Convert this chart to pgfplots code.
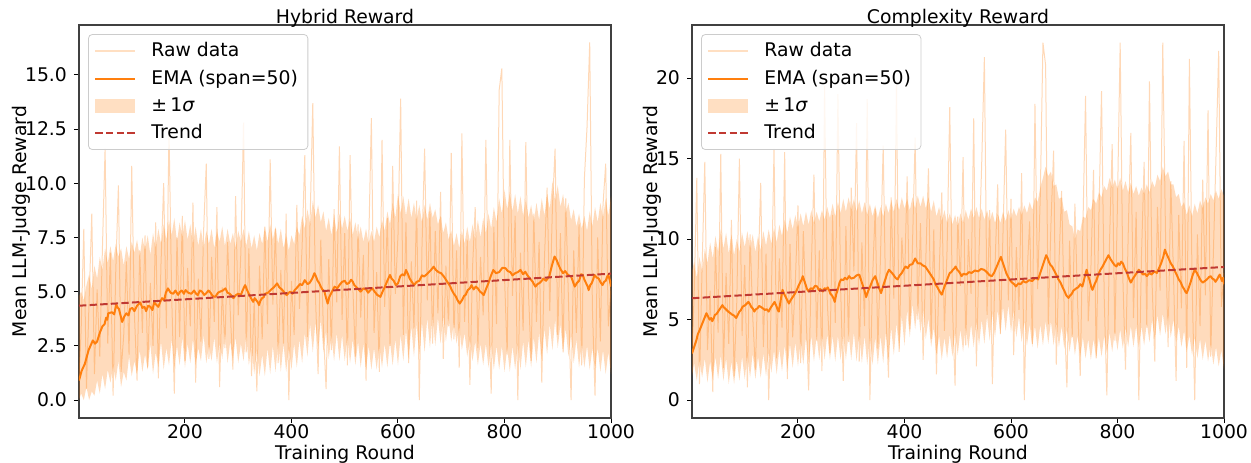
\documentclass[border=0pt]{standalone}
\usepackage{fontspec}
\setmainfont{DejaVu Sans}
\usepackage{pgfplots}
\usepackage{pgfplotstable}
\pgfplotsset{compat=1.18}
\usepgfplotslibrary{fillbetween}

\definecolor{tabor}{RGB}{255,127,14}
\definecolor{trendc}{RGB}{192,57,50}

% Hybrid reward: x, raw value, band low, band high
\pgfplotstableread{
x raw lo hi
1 0.9 0.0 4.8
5 3.2 0.3 5.0
10 7.9 0.0 4.6
15 0.5 0.6 5.3
20 4.6 0.0 5.8
25 8.6 0.4 5.1
30 1.2 0.2 6.2
35 5.1 0.9 5.6
40 2.0 0.3 6.6
45 7.0 1.2 6.0
50 11.6 0.5 7.0
55 2.6 1.4 6.3
60 6.8 0.8 7.1
65 0.2 1.6 6.4
70 5.9 0.9 7.2
75 9.9 1.8 6.6
80 1.3 0.6 7.0
85 3.0 1.3 6.2
90 6.4 0.9 7.1
95 2.1 2.0 6.5
100 10.8 1.1 7.3
105 4.0 1.8 6.8
110 0.9 1.2 7.4
115 6.9 2.3 6.6
120 3.1 1.3 7.5
125 7.6 2.1 6.9
130 1.5 1.4 7.6
135 5.4 2.6 6.7
140 2.5 1.2 7.7
145 8.2 2.2 7.0
150 1.0 1.5 7.9
155 6.3 2.7 7.2
160 10.0 1.4 8.1
165 3.3 2.4 7.4
170 12.5 1.6 8.3
175 4.8 2.8 7.6
180 0.3 1.5 8.4
185 7.5 2.5 7.3
190 2.9 1.6 8.2
195 8.5 2.9 7.5
200 1.8 1.5 8.3
205 6.1 2.6 7.4
210 3.4 1.7 8.1
215 9.1 2.8 7.2
220 0.8 1.6 8.0
225 5.6 2.4 7.1
230 2.7 1.8 7.9
235 7.8 3.0 7.0
240 10.9 1.7 7.8
245 1.9 2.5 7.2
250 6.6 1.8 7.9
255 3.6 2.9 7.0
260 8.9 1.7 7.8
265 0.6 2.6 7.3
270 5.2 1.9 8.0
275 2.4 3.1 7.1
280 7.3 1.7 7.9
285 4.1 2.7 7.2
290 1.4 1.8 7.7
295 9.4 2.9 7.0
300 3.9 1.7 7.8
305 6.8 2.6 7.3
310 12.8 1.8 7.9
315 2.2 3.0 7.1
320 7.0 1.6 7.8
325 1.1 2.5 7.0
330 4.6 1.2 7.6
335 0.4 2.3 6.9
340 6.2 1.1 7.7
345 2.8 2.1 7.2
350 8.0 1.1 8.0
355 3.5 2.4 7.3
360 11.1 1.2 8.1
365 4.4 2.5 7.4
370 7.9 1.3 8.0
375 1.7 2.7 7.2
380 6.0 1.3 7.9
385 2.6 2.6 7.0
390 8.6 1.3 7.6
395 0.0 2.4 6.9
400 5.5 1.4 7.6
405 3.0 2.6 7.2
410 9.0 1.5 8.0
415 4.2 2.8 7.6
420 7.1 1.7 8.5
425 11.3 3.1 7.9
430 2.9 2.0 8.8
435 8.3 3.5 8.1
440 13.7 2.2 9.2
445 4.8 3.6 8.4
450 1.2 2.3 9.0
455 7.4 3.7 8.2
460 3.2 2.2 8.7
465 0.5 3.2 7.8
470 6.5 1.9 8.4
475 2.3 3.0 7.6
480 8.8 1.8 8.5
485 4.5 3.1 7.7
490 11.7 1.8 8.6
495 3.7 3.0 7.9
500 7.7 1.8 8.5
505 1.6 2.9 7.8
510 11.3 1.7 8.4
515 5.3 2.8 7.6
520 2.0 1.6 8.2
525 8.1 2.7 7.4
530 3.8 1.5 8.0
535 6.7 2.6 7.3
540 0.9 1.4 7.9
545 7.2 2.5 7.2
550 13.0 1.4 7.8
555 3.1 2.4 7.3
560 5.9 1.4 8.0
565 1.3 2.5 7.5
570 12.0 1.5 8.3
575 4.3 2.6 7.8
580 8.4 1.5 8.7
585 2.5 2.7 8.1
590 10.8 1.6 9.1
595 4.9 2.8 8.4
600 7.6 1.6 9.5
605 13.9 3.0 8.6
610 3.0 1.8 9.4
615 8.2 3.2 8.5
620 1.7 1.9 9.3
625 6.4 3.4 8.4
630 3.3 2.0 9.1
635 9.2 3.5 8.3
640 0.0 2.1 9.0
645 7.0 3.6 8.2
650 11.6 2.2 9.0
655 4.6 3.8 8.3
660 8.7 2.4 9.1
665 2.6 3.9 8.4
670 7.8 2.5 8.8
675 4.0 3.8 8.1
680 9.6 2.6 8.5
685 1.9 3.9 7.7
690 6.2 2.7 8.2
695 3.4 3.8 7.4
700 11.4 2.7 7.8
705 2.8 3.6 7.1
710 6.9 2.6 7.7
715 1.5 3.4 7.0
720 12.3 2.3 7.8
725 3.6 3.1 7.2
730 7.4 2.0 8.0
735 0.7 2.8 7.3
740 6.1 1.8 8.1
745 8.9 2.7 7.4
750 2.4 1.6 8.3
755 6.6 2.6 7.5
760 3.9 1.6 8.4
765 12.0 2.6 7.7
770 4.4 1.5 8.6
775 0.3 2.6 7.9
780 8.0 1.4 8.9
785 3.5 2.5 8.2
790 14.3 1.4 9.3
795 15.3 2.5 8.6
800 5.7 1.3 9.7
805 2.1 2.4 8.8
810 12.0 1.3 9.6
815 4.8 2.5 8.7
820 8.5 1.4 9.5
825 0.0 2.6 8.6
830 6.8 1.4 9.4
835 3.2 2.7 8.5
840 11.9 1.5 9.3
845 5.0 2.8 8.4
850 1.8 1.5 9.0
855 8.6 2.9 8.2
860 3.6 1.7 9.1
865 7.3 3.1 8.3
870 0.8 1.9 9.3
875 6.5 3.3 8.5
880 9.8 2.1 9.5
885 4.1 3.5 8.8
890 8.9 2.3 10.1
895 11.6 3.7 9.2
900 3.0 2.4 9.9
905 7.7 3.5 8.9
910 2.2 2.2 9.5
915 9.3 3.3 8.6
920 4.7 2.0 9.1
925 0.0 3.0 8.3
930 6.9 1.7 8.8
935 3.1 2.8 8.0
940 8.1 1.5 8.6
945 1.6 2.6 7.9
950 10.2 1.5 8.5
955 12.6 2.5 7.8
960 16.5 1.4 8.7
965 4.3 2.4 8.0
970 0.2 1.4 8.9
975 7.5 2.4 8.2
980 2.7 1.3 9.1
985 9.0 2.3 8.4
990 10.9 1.2 9.3
995 3.4 2.2 8.5
1000 5.2 1.2 9.4
}\hybrid

\pgfplotstableread{
x y
1 0.9
6 1.35
12 1.67
19 2.3
27 2.75
31 2.6
35 2.7
40 3.1
45 3.4
49 3.5
52 3.8
54 3.7
56 4.0
63 4.05
67 3.95
71 4.4
74 4.25
76 4.2
79 3.9
82 3.6
86 3.85
90 4.0
94 3.9
97 4.2
101 4.25
105 4.1
110 4.35
116 4.5
120 4.25
124 4.3
127 4.1
131 4.35
135 4.3
139 4.15
142 4.5
146 4.4
150 4.3
154 4.55
157 4.7
161 4.6
164 4.95
168 5.15
173 4.95
178 4.9
182 5.05
187 4.85
191 5.0
194 5.05
198 4.9
201 5.07
206 4.95
212 4.9
217 5.05
221 4.9
224 4.84
228 5.05
232 5.0
236 4.85
239 4.9
244 5.05
248 4.95
252 4.8
257 4.76
262 4.95
266 5.0
271 5.05
276 5.15
280 4.95
284 4.9
288 4.8
291 4.7
296 4.85
300 4.9
305 4.85
309 5.1
313 5.3
317 5.05
320 4.9
324 4.7
328 4.53
331 4.7
334 4.6
337 4.5
339 4.38
342 4.6
345 4.7
348 4.75
350 4.9
356 4.95
362 5.1
367 5.2
373 5.38
377 5.2
382 5.1
387 4.95
391 4.84
395 4.95
398 5.0
402 4.9
406 5.07
411 5.2
416 5.35
420 5.3
425 5.53
430 5.35
434 5.4
439 5.6
443 5.85
446 5.7
449 5.5
452 5.4
455 5.23
458 5.1
462 5.0
465 4.7
468 4.45
471 4.75
474 4.9
478 5.1
481 5.23
486 5.15
490 5.3
495 5.45
500 5.5
504 5.35
508 5.4
512 5.55
515 5.46
518 5.3
522 5.2
526 5.1
530 5.0
535 5.15
540 5.1
544 4.95
548 5.07
552 5.15
556 5.0
561 4.85
567 4.76
571 5.0
575 5.2
580 5.5
585 5.77
588 5.6
592 5.5
596 5.3
600 5.38
604 5.7
608 5.8
612 5.75
615 6.0
618 5.85
622 5.6
626 5.45
630 5.3
635 5.45
640 5.5
645 5.75
649 5.7
654 5.8
658 5.9
662 6.0
667 6.15
671 6.0
676 5.9
681 5.85
686 5.7
690 5.55
694 5.4
698 5.25
701 5.07
705 4.9
708 4.8
712 4.6
716 4.45
720 4.6
724 4.8
727 4.85
731 5.07
735 5.15
738 5.3
742 5.1
746 5.23
750 5.15
754 5.0
757 4.95
761 4.84
765 5.1
770 5.4
774 5.7
779 6.0
784 5.85
790 5.9
796 6.1
802 6.08
806 5.95
811 5.9
815 5.75
820 5.85
825 5.9
830 6.0
835 5.8
839 5.92
843 5.75
848 5.6
853 5.45
858 5.23
862 5.35
866 5.4
870 5.5
873 5.6
878 5.5
884 5.7
889 6.2
894 6.62
898 6.45
902 6.2
906 6.0
910 5.85
914 5.95
918 5.8
921 5.75
925 5.7
928 5.5
932 5.23
936 5.4
940 5.5
944 5.8
947 5.77
950 5.55
953 5.4
956 5.25
958 5.07
961 5.3
964 5.4
967 5.6
969 5.77
973 5.65
977 5.6
980 5.45
984 5.3
987 5.45
990 5.5
993 5.7
995 5.77
998 5.5
1000 5.23
}\hybridema

% Complexity reward: x, raw value, band low, band high
\pgfplotstableread{
x raw lo hi
1 2.9 1.5 8.0
5 6.5 2.3 8.6
10 13.8 1.2 7.6
15 1.0 2.5 8.9
20 8.3 1.4 8.0
25 14.8 2.6 9.4
30 3.1 1.1 8.5
35 6.8 2.4 9.8
40 0.5 1.3 8.8
45 9.5 2.7 10.2
50 4.2 1.3 9.2
55 15.3 2.8 10.6
60 2.0 1.2 9.4
65 7.9 2.6 10.4
70 3.5 1.0 9.1
75 11.2 2.4 10.3
80 1.5 1.0 9.0
85 6.0 2.5 10.0
90 15.0 1.2 9.2
95 4.0 2.7 10.4
100 8.4 1.3 9.5
105 0.8 2.8 10.5
110 10.3 1.4 9.4
115 5.2 2.9 10.3
120 1.9 1.3 9.2
125 7.7 2.7 10.2
130 13.5 1.4 9.3
135 3.3 2.9 10.5
140 9.1 1.5 9.6
145 0.0 3.0 10.6
150 6.4 1.7 9.7
155 15.6 3.1 10.7
160 2.6 1.6 9.8
165 8.8 3.2 10.9
170 4.5 1.8 10.2
175 15.4 3.4 11.2
180 1.3 1.9 10.4
185 9.7 3.5 11.4
190 3.9 2.0 10.6
195 7.3 3.6 11.5
200 12.1 2.1 10.7
205 2.3 3.7 11.6
210 10.5 2.2 10.8
215 5.6 3.9 11.7
220 0.6 2.3 10.9
225 8.2 4.0 11.8
230 14.0 2.4 11.0
235 3.7 4.0 11.7
240 9.3 2.5 11.1
245 1.8 4.1 11.8
250 19.5 2.5 11.2
255 6.1 4.1 12.0
260 2.9 2.5 11.3
265 11.5 4.0 12.2
270 4.8 2.4 11.4
275 19.0 4.0 12.3
280 7.0 2.5 11.6
285 1.2 4.1 12.5
290 10.8 2.5 11.7
295 3.6 4.2 12.6
300 13.2 2.5 11.8
305 8.0 4.2 12.5
310 17.2 2.4 11.7
315 2.4 4.1 12.4
320 9.8 2.3 11.6
325 4.6 4.0 12.3
330 18.7 2.2 11.5
335 0.0 3.9 12.2
340 7.5 2.2 11.4
345 11.9 3.9 12.1
350 3.2 2.2 11.3
355 9.0 4.0 12.0
360 15.8 2.3 11.4
365 5.5 4.2 12.2
370 1.4 2.5 11.6
375 12.6 4.5 12.4
380 6.3 2.8 11.7
385 19.6 4.8 12.5
390 3.0 3.1 11.8
395 10.1 5.2 12.6
400 7.2 3.4 11.9
405 13.9 5.6 12.5
410 4.4 3.9 11.8
415 9.6 6.0 12.6
420 16.3 4.4 11.9
425 5.0 6.0 12.7
430 11.0 4.2 12.0
435 2.5 5.6 12.7
440 8.7 3.8 11.9
445 14.4 5.1 12.6
450 3.8 3.3 11.7
455 10.6 4.5 12.4
460 1.6 2.8 11.4
465 7.8 4.0 12.0
470 12.9 2.5 11.1
475 4.3 3.9 11.8
480 9.4 2.6 11.0
485 18.2 4.1 11.6
490 5.9 2.7 10.9
495 0.9 4.2 11.5
500 11.4 2.8 10.8
505 7.1 4.4 11.6
510 15.1 3.0 11.0
515 3.4 4.6 11.8
520 10.0 3.2 11.2
525 6.6 4.7 11.9
530 17.5 3.3 11.3
535 2.1 4.9 12.0
540 9.2 3.4 11.3
545 14.7 5.0 11.9
550 21.3 3.5 11.2
555 5.3 5.2 11.8
560 11.8 3.7 11.1
565 1.0 5.4 11.7
570 8.3 3.9 11.0
575 13.4 5.6 11.6
580 4.1 4.1 11.0
585 10.4 5.8 11.7
590 16.8 4.3 11.1
595 6.2 5.9 11.8
600 12.5 4.2 11.2
605 2.8 5.6 11.9
610 9.5 3.9 11.4
615 5.6 5.2 12.0
620 14.1 3.6 11.5
625 0.0 4.9 12.1
630 7.7 3.4 11.6
635 11.1 4.7 12.3
640 3.5 3.3 11.8
645 18.4 4.6 12.6
650 6.9 3.2 12.3
655 12.7 4.7 13.2
660 22.2 3.4 13.8
665 20.8 4.9 14.5
670 4.7 3.5 13.9
675 10.9 4.9 14.2
680 15.5 3.4 13.3
685 2.2 4.8 13.4
690 8.5 3.3 12.5
695 13.0 4.6 12.6
700 5.4 3.2 11.7
705 0.8 4.4 11.8
710 9.9 3.0 10.9
715 3.9 4.2 10.8
720 12.2 2.8 10.0
725 6.0 4.0 10.6
730 1.5 2.7 10.5
735 10.7 3.9 11.4
740 18.9 2.6 11.3
745 4.9 3.8 12.0
750 8.1 2.5 11.8
755 14.3 3.8 12.5
760 2.6 2.6 12.2
765 11.3 3.9 12.9
770 19.2 2.7 12.6
775 6.4 4.0 13.3
780 0.3 2.9 13.0
785 9.8 4.2 13.8
790 15.9 3.0 13.2
795 3.7 4.3 13.7
800 12.4 3.1 13.1
805 22.2 4.4 13.8
810 7.6 3.2 13.0
815 1.9 4.5 13.6
820 10.2 3.3 12.9
825 16.6 4.6 13.5
830 5.1 3.3 12.8
835 11.7 4.6 13.3
840 0.0 3.3 12.7
845 8.9 4.6 13.2
850 14.8 3.4 12.8
855 4.5 4.8 13.4
860 19.8 3.6 12.9
865 7.2 5.0 13.6
870 2.4 3.8 13.2
875 12.0 5.3 14.0
880 6.8 4.0 13.6
885 22.2 5.4 14.5
890 10.6 4.1 13.9
895 3.3 5.3 14.2
900 13.6 3.9 13.4
905 8.0 5.0 13.4
910 1.2 3.6 12.6
915 11.5 4.6 12.8
920 5.7 3.3 12.0
925 16.1 4.3 12.3
930 2.0 3.0 11.5
935 21.2 4.0 12.1
940 7.4 2.8 11.4
945 0.0 3.9 12.2
950 10.3 2.6 11.6
955 4.6 3.8 12.4
960 13.7 2.5 11.9
965 6.5 3.7 12.6
970 18.0 2.4 12.2
975 2.7 3.5 12.8
980 9.1 2.2 12.4
985 15.2 3.3 13.0
990 21.7 2.1 12.5
995 5.8 3.1 13.1
1000 7.9 1.9 12.7
}\complexity

\pgfplotstableread{
x y
1 2.9
5 3.3
9 3.7
12 4.1
16 4.4
22 4.9
28 5.4
31 5.2
34 5.0
37 5.1
39 4.9
42 5.1
44 5.3
47 5.35
50 5.5
54 5.7
58 5.9
61 5.75
63 5.7
66 5.6
69 5.5
73 5.4
77 5.3
80 5.25
84 5.1
87 5.3
90 5.5
93 5.6
96 5.8
101 5.9
107 6.1
110 5.95
112 5.8
115 5.7
118 5.5
121 5.65
124 5.7
127 5.85
130 5.8
134 5.7
138 5.6
141 5.65
145 5.5
148 5.7
150 5.8
153 5.95
156 6.1
158 5.95
160 5.8
162 5.6
164 5.5
168 6.3
171 6.85
174 6.6
177 6.4
180 6.2
183 6.0
186 6.2
190 6.4
194 6.6
198 6.85
201 7.1
204 7.3
207 7.5
209 7.7
212 7.4
214 7.2
217 6.9
220 6.75
224 6.95
228 6.9
232 7.1
236 7.06
239 6.85
242 6.9
245 6.8
247 6.75
250 6.95
253 6.9
256 7.0
258 6.85
261 6.6
264 6.5
267 6.3
269 6.1
272 6.6
275 6.9
278 7.3
281 7.5
285 7.45
288 7.6
292 7.5
296 7.7
300 7.55
305 7.6
310 7.75
315 7.8
318 7.5
322 7.1
325 6.8
328 6.4
332 6.8
336 7.1
340 7.45
345 7.7
347 7.5
350 7.2
353 6.9
356 6.65
360 7.1
364 7.5
368 7.9
371 8.1
375 7.95
379 7.8
383 7.6
387 7.5
391 7.75
395 7.9
399 8.15
402 8.3
406 8.2
410 8.4
415 8.45
420 8.8
425 8.5
430 8.5
435 8.35
439 8.3
443 8.1
447 7.9
451 7.7
455 7.5
458 7.2
462 7.0
466 6.75
470 6.55
474 6.95
478 7.3
482 7.65
485 7.9
488 7.95
491 8.1
494 8.2
496 8.3
499 8.1
502 8.0
505 7.85
507 7.7
511 7.85
516 7.8
521 7.95
526 7.9
532 8.05
538 8.0
544 8.15
549 8.1
553 8.0
556 7.9
560 7.75
564 7.7
568 7.9
572 8.2
577 8.6
581 8.9
585 8.5
588 8.2
591 7.9
594 7.7
598 7.45
602 7.3
606 7.2
609 7.06
614 7.25
618 7.2
623 7.4
628 7.3
634 7.45
640 7.4
646 7.6
651 7.5
655 7.9
658 8.2
662 8.6
666 9.0
669 8.8
671 8.6
674 8.4
677 8.3
681 8.05
685 7.8
689 7.5
693 7.3
697 7.0
700 6.8
704 6.5
708 6.35
711 6.5
714 6.6
717 6.8
719 6.85
723 6.95
726 7.0
730 7.2
734 7.06
736 7.3
738 7.6
740 7.85
742 8.1
745 7.7
748 7.4
751 7.0
753 6.85
757 7.2
760 7.4
764 7.8
768 8.1
772 8.3
775 8.5
779 8.75
783 9.0
787 8.75
790 8.6
794 8.4
798 8.3
801 8.5
804 8.4
807 8.6
810 8.5
814 8.15
818 7.9
821 7.6
825 7.3
829 7.55
832 7.7
836 7.9
840 8.1
844 7.95
848 7.8
852 7.85
855 7.7
860 7.9
864 7.8
869 8.0
874 7.9
878 8.2
882 8.5
886 8.9
889 9.35
892 9.1
896 8.8
900 8.5
904 8.3
908 8.0
911 7.8
915 7.5
919 7.3
922 7.05
925 6.9
928 6.7
930 6.65
934 7.0
937 7.3
941 7.75
945 8.1
949 7.9
952 7.7
956 7.45
960 7.3
964 7.4
968 7.5
972 7.65
975 7.7
978 7.55
981 7.5
984 7.35
987 7.5
990 7.7
992 7.8
994 7.6
996 7.4
998 7.6
1000 7.2
}\complexityema

\pgfplotsset{
  panel/.style={
    width=266pt, height=196.5pt, scale only axis,
    xmin=1, xmax=1000,
    xtick={200,400,600,800,1000},
    tick align=outside, xtick pos=left, ytick pos=left,
    major tick length=2.5pt,
    every tick/.style={black, line width=0.5pt},
    axis line style={black!75, line width=0.6pt},
    font=\fontsize{9.4}{11}\selectfont,
    /pgf/number format/assume math mode=true,
    /pgf/number format/1000 sep={},
    xlabel={Training Round},
    ylabel={Mean LLM-Judge Reward},
    title style={yshift=-10.5pt},
    xticklabel style={yshift=3pt},
    xlabel style={yshift=3.5pt},
    ylabel style={yshift=-9.5pt},
    legend cell align=left,
    legend style={at={(0.017,0.977)}, anchor=north west,
      draw=black!20, rounded corners=2pt, fill=white, fill opacity=0.8,
      text opacity=1, inner xsep=3pt, inner ysep=2pt, row sep=1.1pt,
      font=\fontsize{9.4}{11}\selectfont},
    legend image code/.code={\draw[#1] (0pt,0pt) -- (20pt,0pt); \path (25.5pt,0pt);},
  },
  bandlegend/.style={legend image code/.code={\path[fill=tabor, fill opacity=0.25, draw=none, sharp corners] (0pt,-3.6pt) rectangle (20pt,3.6pt); \path (25.5pt,0pt);}},
}

\begin{document}
\begin{tikzpicture}
% ---------------- Left panel ----------------
\begin{axis}[panel, at={(0,0)}, anchor=south west,
  title={Hybrid Reward},
  ymin=-0.83, ymax=17.3,
  ytick={0,2.5,5,7.5,10,12.5,15},
  yticklabel style={/pgf/number format/.cd, fixed, fixed zerofill, precision=1},
]
\addlegendimage{tabor, opacity=0.25, line width=0.6pt}
\addlegendentry{Raw data}
\addlegendimage{tabor, line width=1pt}
\addlegendentry{EMA (span=50)}
\addlegendimage{bandlegend}
\addlegendentry{±\,1\textit{σ}}
\addlegendimage{trendc, line width=1pt, dash pattern=on 3.7pt off 1.6pt}
\addlegendentry{Trend}
\addplot[draw=none, name path=hiA, forget plot] table[x=x, y=hi]{\hybrid};
\addplot[draw=none, name path=loA, forget plot] table[x=x, y=lo]{\hybrid};
\addplot[fill=tabor, fill opacity=0.28, draw=none, forget plot] fill between[of=hiA and loA];
\addplot[tabor, opacity=0.3, line width=0.5pt, line join=bevel, forget plot] table[x=x, y=raw]{\hybrid};
\addplot[tabor, line width=1pt, line join=round, forget plot] table[x=x, y=y]{\hybridema};
\addplot[trendc, line width=1pt, dash pattern=on 3.7pt off 1.6pt, forget plot] coordinates {(1,4.35) (1000,5.83)};
\end{axis}
% ---------------- Right panel ----------------
\begin{axis}[panel, at={(306.5pt,0)}, anchor=south west,
  title={Complexity Reward},
  ymin=-1.11, ymax=23.3,
  ytick={0,5,10,15,20},
]
\addlegendimage{tabor, opacity=0.25, line width=0.6pt}
\addlegendentry{Raw data}
\addlegendimage{tabor, line width=1pt}
\addlegendentry{EMA (span=50)}
\addlegendimage{bandlegend}
\addlegendentry{±\,1\textit{σ}}
\addlegendimage{trendc, line width=1pt, dash pattern=on 3.7pt off 1.6pt}
\addlegendentry{Trend}
\addplot[draw=none, name path=hiB, forget plot] table[x=x, y=hi]{\complexity};
\addplot[draw=none, name path=loB, forget plot] table[x=x, y=lo]{\complexity};
\addplot[fill=tabor, fill opacity=0.28, draw=none, forget plot] fill between[of=hiB and loB];
\addplot[tabor, opacity=0.3, line width=0.5pt, line join=bevel, forget plot] table[x=x, y=raw]{\complexity};
\addplot[tabor, line width=1pt, line join=round, forget plot] table[x=x, y=y]{\complexityema};
\addplot[trendc, line width=1pt, dash pattern=on 3.7pt off 1.6pt, forget plot] coordinates {(1,6.33) (1000,8.27)};
\end{axis}
\pgfresetboundingbox
\path[use as bounding box] (-39.5pt,-22pt) rectangle (586pt,209pt);
\end{tikzpicture}
\end{document}
